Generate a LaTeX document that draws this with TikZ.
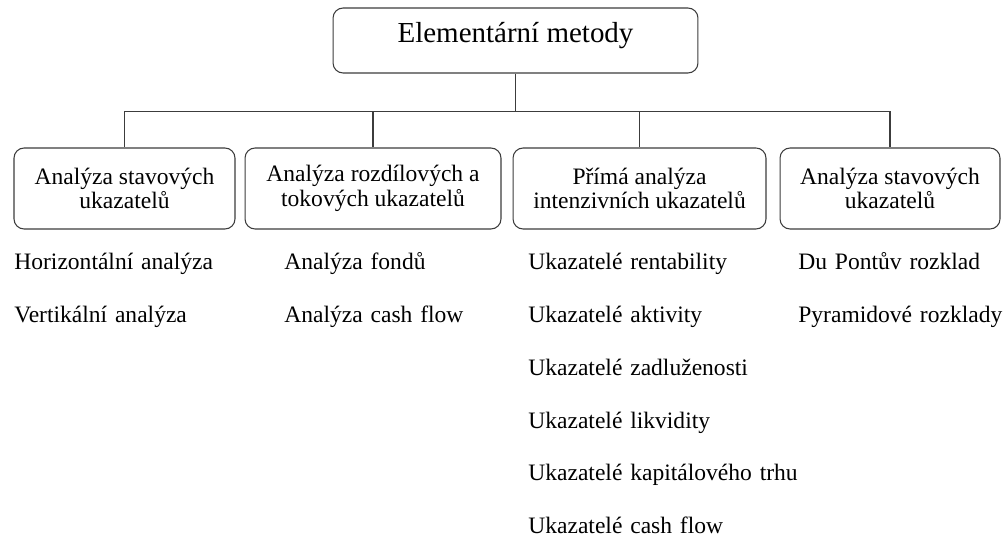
\documentclass[tikz,border=0pt]{standalone}
\usepackage{fontspec}
\setmainfont{Liberation Serif}
\usetikzlibrary{positioning}
\definecolor{FrameGray}{HTML}{3C3C3C}

\begin{document}
\begin{tikzpicture}[
  x=0.02cm,y=-0.02cm,
  every node/.style={font=\fontsize{13.4pt}{13.9pt}\selectfont,align=center},
  root/.style={draw=FrameGray,line width=0.6pt,rounded corners=2mm,minimum width=7.3cm,minimum height=1.3cm,font=\fontsize{16.5pt}{18pt}\selectfont,text height=11.55pt,text depth=8.75pt},
  group/.style={draw=FrameGray,line width=0.6pt,rounded corners=2mm,minimum height=1.62cm,inner sep=0pt},
  item/.style={inner sep=0pt,text width=7cm,align=left,text height=9.65pt,text depth=3.35pt},
  link/.style={draw=FrameGray,line width=0.6pt}
]
\useasboundingbox (0,0) rectangle (1005,537);
\node[root] (top) at (515.5,40.5) {Elementární metody};
\node[group,minimum width=4.42cm] (stav) at (124.5,188.5) {Analýza stavových\\ukazatelů};
\node[group,minimum width=5.12cm,right=1.8mm of stav] (rozd) {Analýza rozdílových a\\tokových ukazatelů};
\node[group,minimum width=5.06cm,right=2.2mm of rozd] (prima) {Přímá analýza\\intenzivních ukazatelů};
\node[group,minimum width=4.4cm,right=2.6mm of prima] (rozkl) {Analýza stavových\\ukazatelů};
\draw[link] (top.south) -- ++(0,38) coordinate (bus);
\draw[link] (bus) -| (stav.north);
\draw[link] (bus) -| (rozd.north);
\draw[link] (bus) -| (prima.north);
\draw[link] (bus) -| (rozkl.north);
% first column
\node[item,anchor=base west] (hor) at (14,270) {Horizontální analýza};
\node[item,below=5.83mm of hor] (ver) {Vertikální analýza};
% second column
\node[item,anchor=base west] (fond) at (284,270) {Analýza fondů};
\node[item,below=5.83mm of fond] (cash) {Analýza cash flow};
% third column
\node[item,anchor=base west] (rent) at (528,270) {Ukazatelé rentability};
\node[item,below=5.83mm of rent] (akt) {Ukazatelé aktivity};
\node[item,below=5.83mm of akt] (zadl) {Ukazatelé zadluženosti};
\node[item,below=5.83mm of zadl] (likv) {Ukazatelé likvidity};
\node[item,below=5.83mm of likv] (kap) {Ukazatelé kapitálového trhu};
\node[item,below=5.83mm of kap] (ucash) {Ukazatelé cash flow};
% fourth column
\node[item,anchor=base west] (dupont) at (798,270) {Du Pontův rozklad};
\node[item,below=5.83mm of dupont] (pyr) {Pyramidové rozklady};
\end{tikzpicture}
\end{document}
